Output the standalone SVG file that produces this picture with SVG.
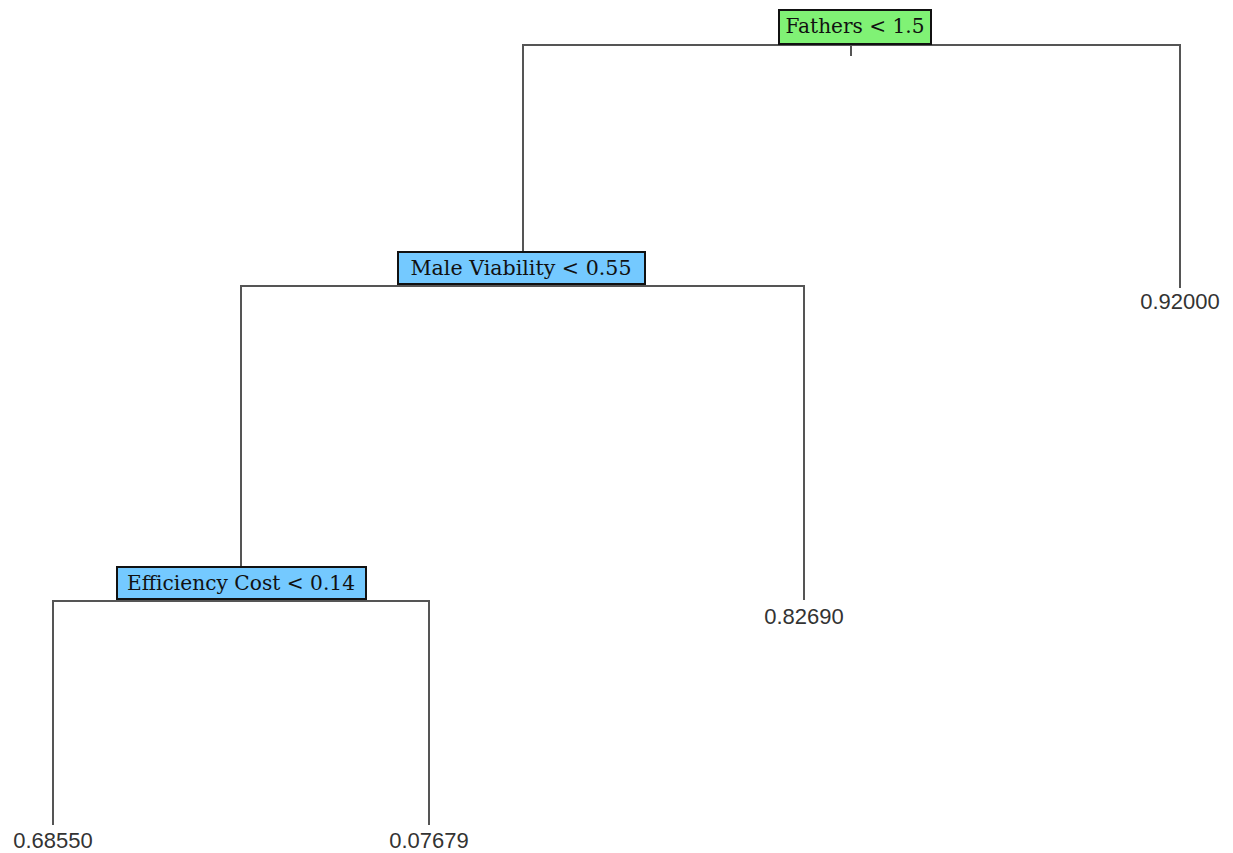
<svg xmlns="http://www.w3.org/2000/svg" width="1233" height="853" viewBox="0 0 1233 853">
  <style>
    .edge { stroke: #555; stroke-width: 2; fill: none; }
    .box { stroke: #111; stroke-width: 2; }
    .root { fill: #80f275; }
    .split { fill: #74c9ff; }
    .lbl { font-family: "DejaVu Serif", "Liberation Serif", serif; font-size: 20px; fill: #111; text-anchor: middle; }
    .leaf { font-family: "Liberation Sans", Arial, sans-serif; font-size: 22px; fill: #333; text-anchor: middle; }
  </style>
  <rect width="1233" height="853" fill="#fff"/>

  <g id="connectors">
    <!-- root split -->
    <path class="edge" d="M523,286 V45 H1180 V288"/>
    <path class="edge" d="M851,45 V56"/>
    <!-- male viability split -->
    <path class="edge" d="M241,600 V286 H804 V600"/>
    <!-- efficiency cost split -->
    <path class="edge" d="M53,825 V601 H429 V825"/>
  </g>

  <g id="node-fathers">
    <rect class="box root" x="779" y="10" width="152" height="34"/>
    <text class="lbl" x="855" y="33" textLength="139" lengthAdjust="spacingAndGlyphs">Fathers &lt; 1.5</text>
  </g>

  <g id="node-male-viability">
    <rect class="box split" x="398" y="252" width="247" height="32"/>
    <text class="lbl" x="521" y="275" textLength="221" lengthAdjust="spacingAndGlyphs">Male Viability &lt; 0.55</text>
  </g>

  <g id="node-efficiency-cost">
    <rect class="box split" x="117" y="567" width="249" height="32"/>
    <text class="lbl" x="241" y="590" textLength="228" lengthAdjust="spacingAndGlyphs">Efficiency Cost &lt; 0.14</text>
  </g>

  <g id="leaf-092000"><text class="leaf" x="1180" y="309">0.92000</text></g>
  <g id="leaf-082690"><text class="leaf" x="804" y="624">0.82690</text></g>
  <g id="leaf-068550"><text class="leaf" x="53" y="848">0.68550</text></g>
  <g id="leaf-007679"><text class="leaf" x="429" y="848">0.07679</text></g>
</svg>
